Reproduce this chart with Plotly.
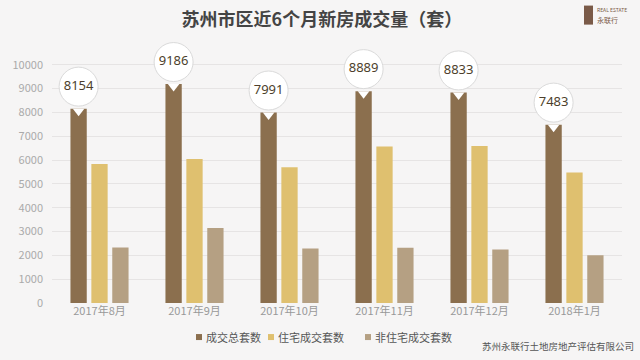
import plotly.graph_objects as go

months = ["2017年8月", "2017年9月", "2017年10月", "2017年11月", "2017年12月", "2018年1月"]
total = [8154, 9186, 7991, 8889, 8833, 7483]
residential = [5830, 6040, 5700, 6570, 6590, 5480]
non_residential = [2324, 3146, 2291, 2319, 2243, 2003]
series_names = ["成交总套数", "住宅成交套数", "非住宅成交套数"]
colors = ["#8B6F4E", "#DFC06F", "#B5A083"]
yticks = [0, 1000, 2000, 3000, 4000, 5000, 6000, 7000, 8000, 9000, 10000]

FONT = "Noto Sans CJK SC, Noto Sans, sans-serif"
xs = list(range(len(months)))

# geometry: 0 at y=303px, 23.8 px per 1000
YMAX = 12000
PX_PER_UNIT = 0.0238
plot_h = YMAX * PX_PER_UNIT
top_m = 303 - plot_h
px = 1 / PX_PER_UNIT  # data units per pixel


def py(ypx):
    return (303 - ypx) / plot_h


def pxx(xpx):
    return (xpx - 52) / 570


fig = go.Figure()
for name, vals, col in zip(series_names, [total, residential, non_residential], colors):
    fig.add_trace(go.Bar(x=xs, y=vals, name=name, marker=dict(color=col, line=dict(width=0)),
                         showlegend=False))

bargap = 0.34
slot = (1 - bargap) / 3
xb = [x - slot for x in xs]
# bubble circles
fig.add_trace(go.Scatter(
    x=xb, y=[v + 22 * px for v in total], mode="markers+text",
    marker=dict(symbol="circle", size=39, color="white", line=dict(width=1, color="#dadada")),
    text=[str(v) for v in total], textposition="middle center",
    textfont=dict(size=13, color="#4d3f2c", family="Noto Sans, sans-serif"),
    showlegend=False, hoverinfo="skip", cliponaxis=False))
# tail / notch
fig.add_trace(go.Scatter(
    x=xb, y=[v - 2.5 * px for v in total], mode="markers",
    marker=dict(symbol="triangle-down", size=10, color="white", line=dict(width=0)),
    showlegend=False, hoverinfo="skip", cliponaxis=False))

fig.update_layout(
    width=640, height=360,
    margin=dict(l=52, r=18, t=top_m, b=57),
    paper_bgcolor="#f6f5f5", plot_bgcolor="rgba(0,0,0,0)",
    barmode="group", bargap=bargap, bargroupgap=0.22,
    font=dict(family=FONT, color="#666"),
    title=dict(text="<b>苏州市区近6个月新房成交量（套）</b>", x=0.503, xanchor="center",
               y=0.944, yanchor="middle",
               font=dict(size=18, color="#444", family=FONT)),
    xaxis=dict(tickmode="array", tickvals=xs, ticktext=months, range=[-0.5, len(months) - 0.5],
               showgrid=False, zeroline=False, showline=False, ticks="",
               tickfont=dict(size=11, color="#999")),
    yaxis=dict(range=[0, YMAX], tickmode="array", tickvals=yticks, tickformat="d",
               showgrid=True, gridcolor="#e6e4e4", gridwidth=1,
               zeroline=False, showline=False, ticks="", ticklabelstandoff=8,
               tickfont=dict(size=11, color="#aaa")),
    showlegend=False,
)

# legend (drawn manually for tight spacing)
legend_x = [196, 268, 365]
for lx, name, col in zip(legend_x, series_names, colors):
    fig.add_shape(type="rect", xref="paper", yref="paper", x0=pxx(lx), x1=pxx(lx + 6),
                  y0=py(340), y1=py(334), fillcolor=col, line=dict(width=0))
    fig.add_annotation(text=name, xref="paper", yref="paper", x=pxx(lx + 8), y=py(337),
                       xanchor="left", yanchor="middle", showarrow=False,
                       font=dict(size=11, color="#555", family=FONT))

fig.add_annotation(text="苏州永联行土地房地产评估有限公司", xref="paper", yref="paper",
                   x=pxx(636), y=py(346), xanchor="right", yanchor="middle", showarrow=False,
                   font=dict(size=9.5, color="#555", family=FONT))
# logo
fig.add_shape(type="rect", xref="paper", yref="paper", x0=pxx(584), x1=pxx(593), y0=py(25), y1=py(6),
              fillcolor="#7a5a48", line=dict(width=0), layer="above")
fig.add_annotation(text="REAL ESTATE", xref="paper", yref="paper", x=pxx(595), y=py(10),
                   xanchor="left", yanchor="middle", showarrow=False,
                   font=dict(size=5, color="#7a5a48"))
fig.add_annotation(text="永联行", xref="paper", yref="paper", x=pxx(595), y=py(20),
                   xanchor="left", yanchor="middle", showarrow=False,
                   font=dict(size=7, color="#7a5a48", family=FONT))

fig.write_html("out.html", config={"displayModeBar": False},
               post_script="document.body.style.margin='0px';")
